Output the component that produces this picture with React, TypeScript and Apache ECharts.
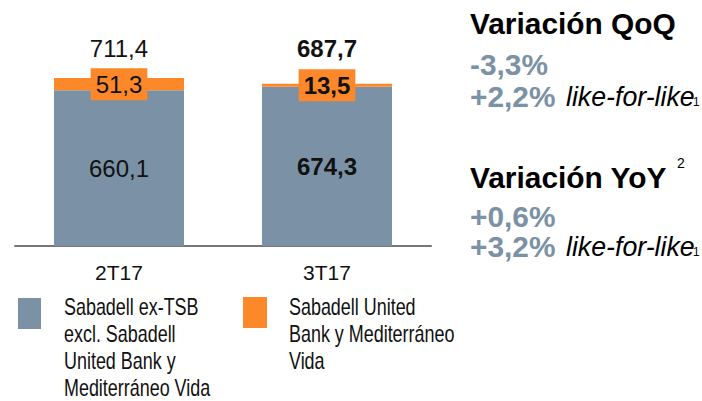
import React, { useEffect, useRef } from "react";
import * as echarts from "echarts";

const categories = ["2T17", "3T17"];
const exTsbValues = [660.1, 674.3];
const subMvValues = [51.3, 13.5];
const totalValues = [711.4, 687.7];
const highlight = [false, true];
const qoqValues = ["-3,3%", "+2,2%"];
const yoyValues = ["+0,6%", "+3,2%"];
const seriesNames = [
  "Sabadell ex-TSB\nexcl. Sabadell\nUnited Bank y\nMediterráneo Vida",
  "Sabadell United\nBank y Mediterráneo\nVida",
];

const GRAY = "#7B91A5";
const ORANGE = "#FD8829";
const FONT = "'Liberation Sans', Arial, sans-serif";
const fmt = (v: number) => v.toFixed(1).replace(".", ",");

export default function App() {
  const ref = useRef<HTMLDivElement>(null);
  useEffect(() => {
    document.body.style.margin = "0";
    if (!ref.current) return;
    const chart = echarts.init(ref.current, undefined, { renderer: "svg" });
    const bigText = (x: number, y: number, text: string, fill: string, extra: any = {}) => ({
      type: "text",
      x,
      y,
      scaleX: extra.scaleX ?? 1.03,
      style: {
        text,
        fill,
        fontFamily: FONT,
        fontSize: extra.fontSize ?? 29,
        fontWeight: extra.fontWeight ?? "bold",
        fontStyle: extra.fontStyle ?? "normal",
        align: "left",
        verticalAlign: "middle",
      },
    });
    const option: any = {
      animation: false,
      grid: { left: 15, right: 271, top: 69, bottom: 155 },
      xAxis: [
        {
          type: "category",
          data: categories,
          axisLine: { lineStyle: { color: "#777", width: 2 } },
          axisTick: { show: false },
          axisLabel: { fontSize: 21, color: "#111", margin: 16, fontFamily: FONT },
        },
        {
          type: "category",
          position: "top",
          data: totalValues.map(fmt),
          axisLine: { show: false },
          axisTick: { show: false },
          axisLabel: {
            fontSize: 24,
            color: "#111",
            margin: 9,
            fontFamily: FONT,
            formatter: (v: string, i: number) => (highlight[i] ? `{b|${v}}` : v),
            rich: { b: { fontSize: 24, fontWeight: "bold", color: "#111", fontFamily: FONT } },
          },
        },
      ],
      yAxis: { type: "value", min: 0, max: 750, show: false, splitLine: { show: false } },
      series: [
        {
          type: "bar",
          name: seriesNames[0],
          stack: "t",
          barWidth: 130,
          itemStyle: { color: GRAY },
          label: {
            show: true,
            position: "inside",
            fontSize: 24,
            color: "#111",
            fontFamily: FONT,
            formatter: (p: any) => fmt(p.value),
          },
          data: exTsbValues.map((v, i) => ({
            value: v,
            label: { fontWeight: highlight[i] ? "bold" : "normal" },
          })),
        },
        {
          type: "bar",
          name: seriesNames[1],
          stack: "t",
          barWidth: 130,
          itemStyle: { color: ORANGE },
          label: {
            show: true,
            position: "inside",
            fontSize: 24,
            lineHeight: 24,
            color: "#111",
            fontFamily: FONT,
            backgroundColor: ORANGE,
            padding: [4, 5, 4, 5],
            formatter: (p: any) => fmt(p.value),
          },
          data: subMvValues.map((v, i) => ({
            value: v,
            label: { fontWeight: highlight[i] ? "bold" : "normal" },
          })),
        },
      ],
      graphic: [
        bigText(470, 24, "Variación QoQ", "#000"),
        bigText(470, 64.5, qoqValues[0], GRAY),
        bigText(470, 97, qoqValues[1], GRAY),
        bigText(566, 97, "like-for-like", "#000", { fontWeight: "normal", fontStyle: "italic", fontSize: 27, scaleX: 0.99 }),
        bigText(693, 102, "1", "#000", { fontWeight: "normal", fontSize: 13, scaleX: 0.9 }),
        bigText(470, 178, "Variación YoY", "#000"),
        bigText(677, 163, "2", "#000", { fontWeight: "normal", fontSize: 14, scaleX: 1 }),
        bigText(470, 216.5, yoyValues[0], GRAY),
        bigText(470, 247, yoyValues[1], GRAY),
        bigText(566, 247, "like-for-like", "#000", { fontWeight: "normal", fontStyle: "italic", fontSize: 27, scaleX: 0.99 }),
        bigText(693, 252, "1", "#000", { fontWeight: "normal", fontSize: 13, scaleX: 0.9 }),
        { type: "rect", shape: { x: 18, y: 298, width: 23, height: 31 }, style: { fill: GRAY } },
        { type: "rect", shape: { x: 243, y: 297, width: 24, height: 31 }, style: { fill: ORANGE } },
        {
          type: "text",
          x: 64,
          y: 293,
          scaleX: 0.78,
          style: { text: seriesNames[0], fill: "#111", fontFamily: FONT, fontSize: 23, lineHeight: 27, align: "left", verticalAlign: "top" },
        },
        {
          type: "text",
          x: 289,
          y: 293,
          scaleX: 0.78,
          style: { text: seriesNames[1], fill: "#111", fontFamily: FONT, fontSize: 23, lineHeight: 27, align: "left", verticalAlign: "top" },
        },
      ],
    };
    chart.setOption(option);
    return () => chart.dispose();
  }, []);
  return <div ref={ref} style={{ width: 702, height: 401 }} />;
}
